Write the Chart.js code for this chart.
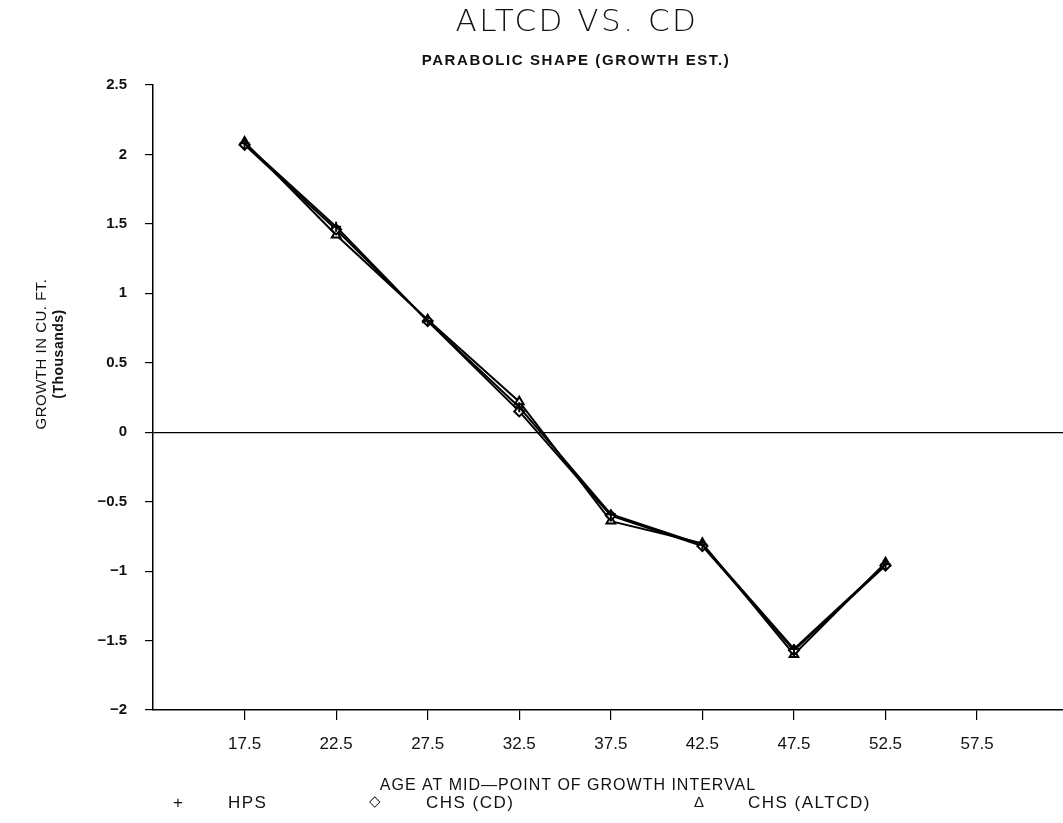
<!DOCTYPE html>
<html>
<head>
  <script src="https://cdn.jsdelivr.net/npm/chart.js"></script>
  <title>ALTCD vs. CD</title>
  <style>
    body { margin: 0; background: #fff; overflow: hidden; }
    #wrap { width: 1072px; height: 823px; }
  </style>
</head>
<body>
  <div id="wrap">
    <canvas id="growthChart" width="1072" height="823"></canvas>
  </div>

  <script>
    // ages at mid-point of growth interval
    const ages = [17.5, 22.5, 27.5, 32.5, 37.5, 42.5, 47.5, 52.5];
    // growth in cu. ft. (thousands)
    const hps   = [2.08, 1.48, 0.80, 0.18, -0.59, -0.81, -1.56, -0.95];
    const chsCD = [2.07, 1.46, 0.80, 0.15, -0.60, -0.82, -1.57, -0.96];
    const chsAlt = [2.09, 1.42, 0.81, 0.22, -0.64, -0.80, -1.60, -0.94];
    const xTicks = [17.5, 22.5, 27.5, 32.5, 37.5, 42.5, 47.5, 52.5, 57.5];
    const yTicks = [-2, -1.5, -1, -0.5, 0, 0.5, 1, 1.5, 2, 2.5];

    const toPoints = vals => vals.map((v, i) => ({ x: ages[i], y: v }));

    function series(label, vals, style) {
      return {
        label: label,
        data: toPoints(vals),
        borderColor: '#000',
        borderWidth: 2,
        pointStyle: style,
        pointRadius: 5,
        pointBorderWidth: 2,
        pointBorderColor: '#000',
        pointBackgroundColor: '#fff',
        tension: 0
      };
    }

    function text(c, str, x, y, font, spacing) {
      c.font = font;
      c.letterSpacing = spacing || '0px';
      c.fillText(str, x, y);
    }

    // titles, axis title and legend drawn at their places
    const annotations = {
      id: 'annotations',
      afterDraw(chart) {
        const c = chart.ctx;
        c.save();
        c.fillStyle = '#111';
        c.textBaseline = 'middle';
        c.textAlign = 'center';
        text(c, 'ALTCD VS. CD', 577, 23, '200 31px "DejaVu Sans"', '2.5px');
        text(c, 'PARABOLIC SHAPE (GROWTH EST.)', 576, 61, 'bold 15px "Liberation Sans"', '1.6px');
        text(c, 'AGE AT MID\u2014POINT OF GROWTH INTERVAL', 568, 786, '16px "Liberation Sans"', '1px');

        c.save();
        c.translate(42, 354);
        c.rotate(-Math.PI / 2);
        text(c, 'GROWTH IN CU. FT.', 0, 0, '15px "Liberation Sans"', '0.5px');
        text(c, '(Thousands)', 0, 17, 'bold 14px "Liberation Sans"', '0.5px');
        c.restore();

        c.textAlign = 'left';
        text(c, '+', 173, 803, '17px "Liberation Sans"');
        text(c, 'HPS', 228, 803, '17px "Liberation Sans"', '1.5px');
        text(c, '\u25C7', 369, 802, '15px "DejaVu Sans"');
        text(c, 'CHS (CD)', 426, 803, '17px "Liberation Sans"', '1.5px');
        text(c, '\u0394', 694, 803, '15px "Liberation Sans"');
        text(c, 'CHS (ALTCD)', 748, 803, '17px "Liberation Sans"', '1.5px');
        c.restore();
      }
    };

    const ctx = document.getElementById('growthChart').getContext('2d');
    const chart = new Chart(ctx, {
      type: 'line',
      data: {
        datasets: [
          series('HPS', hps, 'cross'),
          series('CHS (CD)', chsCD, 'rectRot'),
          series('CHS (ALTCD)', chsAlt, 'triangle')
        ]
      },
      options: {
        responsive: false,
        animation: false,
        layout: { padding: { top: 85, left: 0, right: 0, bottom: 0 } },
        plugins: {
          legend: { display: false },
          title: { display: false },
          tooltip: { enabled: false }
        },
        scales: {
          x: {
            type: 'linear',
            min: 12.5,
            max: 62.3,
            afterBuildTicks: axis => { axis.ticks = xTicks.map(v => ({ value: v })); },
            afterFit: scale => { scale.height = 113; },
            border: { display: true, color: '#000', width: 1.5 },
            grid: { drawOnChartArea: false, color: '#000', tickLength: 10, lineWidth: 1.2 },
            ticks: {
              color: '#111',
              padding: 14,
              maxRotation: 0,
              font: { family: '"Liberation Sans"', size: 17 },
              callback: v => v.toFixed(1)
            }
          },
          y: {
            min: -2,
            max: 2.5,
            afterBuildTicks: axis => { axis.ticks = yTicks.map(v => ({ value: v })); },
            afterFit: scale => { scale.width = 153; },
            border: { display: true, color: '#000', width: 1.5 },
            grid: {
              color: c => c.tick && c.tick.value === 0 ? '#000' : 'rgba(0,0,0,0)',
              tickColor: '#000',
              tickLength: 8,
              lineWidth: 1.2
            },
            ticks: {
              color: '#111',
              padding: 18,
              font: { family: '"Liberation Sans"', size: 15, weight: 'bold' },
              callback: v => String(v).replace('-', '\u2212')
            }
          }
        }
      },
      plugins: [annotations]
    });
  </script>
</body>
</html>
